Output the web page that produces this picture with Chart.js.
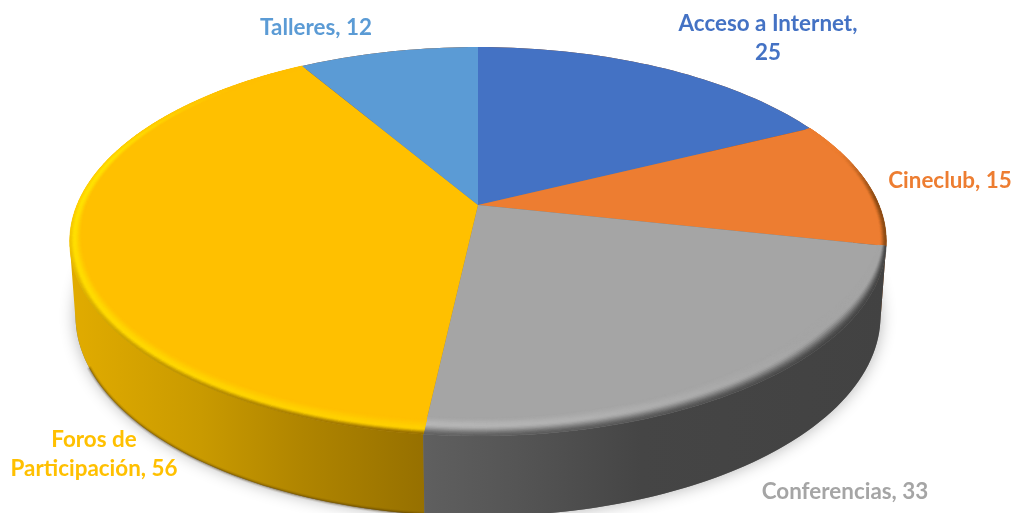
<!DOCTYPE html>
<html>
<head>
<meta charset="utf-8">
<style>
  html, body { margin: 0; background: #fff; }
  canvas { display: block; }
</style>
<script src="https://cdn.jsdelivr.net/npm/chart.js@4"></script>
</head>
<body>
<canvas id="servicesPie" width="1013" height="513"></canvas>
<script>
// Chart data
const categories = ['Acceso a Internet', 'Cineclub', 'Conferencias', 'Foros de Participación', 'Talleres'];
const serviceValues = [25, 15, 33, 56, 12];
const sliceColors = ['#4472C4', '#ED7D31', '#A5A5A5', '#FFC000', '#5B9BD5'];

// Label centres, first line baseline middle
const labelPositions = [[768, 24], [950, 181], [845, 492], [94, 440], [316, 28]];

// Perspective of the 3D pie: apex, radii and foreshortening of the top and bottom faces
const topFace = { cx: 478, cy: 205, a: 401, b: 187.6, q: 0.1877 };
const bottomFace = { cx: 478, cy: 280, a: 396, b: 194, q: 0.179 };

const clamp = v => Math.max(0, Math.min(1, v));
const mix = (c1, c2, t) => c1.map((v, i) => v + (c2[i] - v) * t);
const rgb = c => `rgb(${c.map(Math.round).join(',')})`;
const smooth = t => t * t * (3 - 2 * t);

// theta is in degrees, clockwise from the top, r is a fraction of the radius
function project(face, theta, r = 1) {
    const rad = theta * Math.PI / 180;
    const x = r * Math.sin(rad);
    const y = -r * Math.cos(rad);
    const w = 1 - face.q * y;
    return [face.cx + face.a * x / w, face.cy + face.b * y / w];
}

function arcPoints(face, from, to, r = 1) {
    const pts = [];
    const steps = Math.max(2, Math.ceil((to - from) / 1.5));
    for (let s = 0; s <= steps; s++) pts.push(project(face, from + (to - from) * s / steps, r));
    return pts;
}

function addPoly(ctx, pts) {
    pts.forEach((p, i) => (i ? ctx.lineTo(p[0], p[1]) : ctx.moveTo(p[0], p[1])));
    ctx.closePath();
}

function tracePoly(ctx, pts) {
    ctx.beginPath();
    addPoly(ctx, pts);
}

// quads at the silhouette flip direction, and nonzero fill would cancel them
function signedArea(pts) {
    let sum = 0;
    pts.forEach((p, i) => {
        const n = pts[(i + 1) % pts.length];
        sum += p[0] * n[1] - n[0] * p[1];
    });
    return sum;
}

function sideFill(ctx, index) {
    const g = ctx.createLinearGradient(60, 0, 890, 0);
    const stops = index === 3
        ? [[0, '#E3AD00'], [0.17, '#C99A00'], [0.29, '#B08500'], [0.44, '#967000'], [1, '#967000']]
        : index === 2
            ? [[0, '#5F5F5F'], [0.44, '#5F5F5F'], [0.55, '#555555'], [0.7, '#454545'], [1, '#424242']]
            : [[0, '#8F4D1E'], [1, '#8F4D1E']];
    stops.forEach(s => g.addColorStop(s[0], s[1]));
    return g;
}

function drawSide(ctx, index, from, to) {
    const upper = arcPoints(topFace, from, to);
    const lower = arcPoints(bottomFace, from, to);
    ctx.fillStyle = sideFill(ctx, index);
    // all quads in one path, otherwise the seams show up as stripes
    ctx.beginPath();
    for (let i = 0; i < upper.length - 1; i++) {
        const quad = [upper[i], upper[i + 1], lower[i + 1], lower[i]];
        addPoly(ctx, signedArea(quad) < 0 ? quad.reverse() : quad);
    }
    ctx.fill('nonzero');
    // dark line along the bottom edge of the yellow wall
    if (index === 3) {
        ctx.save();
        ctx.lineCap = 'round';
        [[5, 0.10], [3, 0.16], [1.5, 0.22]].forEach(([w, alpha]) => {
            ctx.strokeStyle = `rgba(70,45,0,${alpha})`;
            ctx.lineWidth = w;
            ctx.beginPath();
            arcPoints(bottomFace, from, Math.min(to, 245)).forEach((p, i) => (i ? ctx.lineTo(p[0], p[1]) : ctx.moveTo(p[0], p[1])));
            ctx.stroke();
        });
        ctx.restore();
    }
}

// Bevel along the rim of a slice: width as radius fraction and colour for t (0 inner, 1 edge)
function rimStyle(index, theta) {
    if (index === 3) {
        const low = clamp((270 - theta) / 80);
        const fade = clamp((315 - theta) / 30);
        const base = [255, 192, 0];
        const peak = mix(base, mix([255, 226, 0], [255, 208, 0], low), fade);
        const edge = mix(base, mix([255, 210, 0], [150, 110, 0], low), fade);
        return { width: 0.025 + 0.03 * low, color: t => (t < 0.65 ? mix(base, peak, smooth(t / 0.65)) : mix(peak, edge, smooth((t - 0.65) / 0.35))) };
    }
    if (index === 2) {
        const front = clamp((theta - 130) / 50);
        const base = [165, 165, 165];
        const peak = mix(base, [182, 182, 182], front);
        const edge = mix([68, 68, 68], [96, 96, 96], front);
        return { width: 0.02 + 0.045 * clamp((theta - 102) / 25), color: t => (t < 0.45 ? mix(base, peak, smooth(t / 0.45)) : mix(peak, edge, smooth((t - 0.45) / 0.55))) };
    }
    if (index === 1) {
        const fade = clamp((theta - 72) / 15);
        return { width: 0.015, color: t => mix([237, 125, 49], [140, 75, 20], smooth(t) * fade) };
    }
    return null;
}

function drawRim(ctx, index, from, to) {
    if (!rimStyle(index, from)) return;
    const rings = 14;
    const steps = Math.ceil((to - from) / 1.5);
    ctx.lineWidth = 0.6;
    for (let s = 0; s < steps; s++) {
        const a0 = from + (to - from) * s / steps;
        const a1 = from + (to - from) * (s + 1) / steps;
        const st0 = rimStyle(index, a0);
        const st1 = rimStyle(index, a1);
        for (let k = 0; k < rings; k++) {
            const t0 = k / rings;
            const t1 = (k + 1) / rings;
            const col = rgb(st0.color((t0 + t1) / 2));
            tracePoly(ctx, [
                project(topFace, a0, 1 - st0.width * (1 - t0)),
                project(topFace, a1, 1 - st1.width * (1 - t0)),
                project(topFace, a1, 1 - st1.width * (1 - t1)),
                project(topFace, a0, 1 - st0.width * (1 - t1))
            ]);
            ctx.fillStyle = col;
            ctx.strokeStyle = col;
            ctx.fill();
            ctx.stroke();
        }
    }
}

function wrapLabel(ctx, text, maxWidth) {
    const lines = [];
    let line = '';
    text.split(' ').forEach(word => {
        const next = line ? line + ' ' + word : word;
        if (line && ctx.measureText(next).width > maxWidth) {
            lines.push(line);
            line = word;
        } else {
            line = next;
        }
    });
    lines.push(line);
    return lines;
}

// Chart.js only does flat pies, so its arcs are re-projected here
const perspectivePie = {
    id: 'perspectivePie',
    beforeDatasetsDraw(chart) {
        const ctx = chart.ctx;
        const slices = chart.getDatasetMeta(0).data.map((arc, i) => ({
            index: i,
            from: (arc.startAngle + Math.PI / 2) * 180 / Math.PI,
            to: (arc.endAngle + Math.PI / 2) * 180 / Math.PI
        }));

        // soft shadow under the disc
        ctx.save();
        ctx.shadowColor = 'rgba(0,0,0,0.3)';
        ctx.shadowBlur = 16;
        ctx.fillStyle = '#777';
        tracePoly(ctx, arcPoints(bottomFace, 0, 360));
        ctx.fill();
        ctx.restore();

        // walls, back to front
        [1, 0, 4, 3, 2].forEach(i => drawSide(ctx, i, slices[i].from, slices[i].to));

        // top face
        slices.forEach(s => {
            const pts = arcPoints(topFace, s.from, s.to);
            pts.unshift([topFace.cx, topFace.cy]);
            tracePoly(ctx, pts);
            ctx.fillStyle = sliceColors[s.index];
            ctx.fill();
            drawRim(ctx, s.index, s.from, s.to);
        });

        // labels
        ctx.font = 'bold 22.4px Lato, "Open Sans", sans-serif';
        ctx.textAlign = 'center';
        ctx.textBaseline = 'middle';
        categories.forEach((name, i) => {
            ctx.fillStyle = sliceColors[i];
            wrapLabel(ctx, `${name}, ${serviceValues[i]}`, 195).forEach((line, n) => {
                ctx.fillText(line, labelPositions[i][0], labelPositions[i][1] + n * 29);
            });
        });
        return false;
    }
};

new Chart(document.getElementById('servicesPie'), {
    type: 'pie',
    data: {
        labels: categories,
        datasets: [{ data: serviceValues, backgroundColor: sliceColors, borderWidth: 0 }]
    },
    options: {
        responsive: false,
        animation: false,
        events: [],
        plugins: {
            legend: { display: false },
            tooltip: { enabled: false }
        }
    },
    plugins: [perspectivePie]
});
</script>
</body>
</html>
